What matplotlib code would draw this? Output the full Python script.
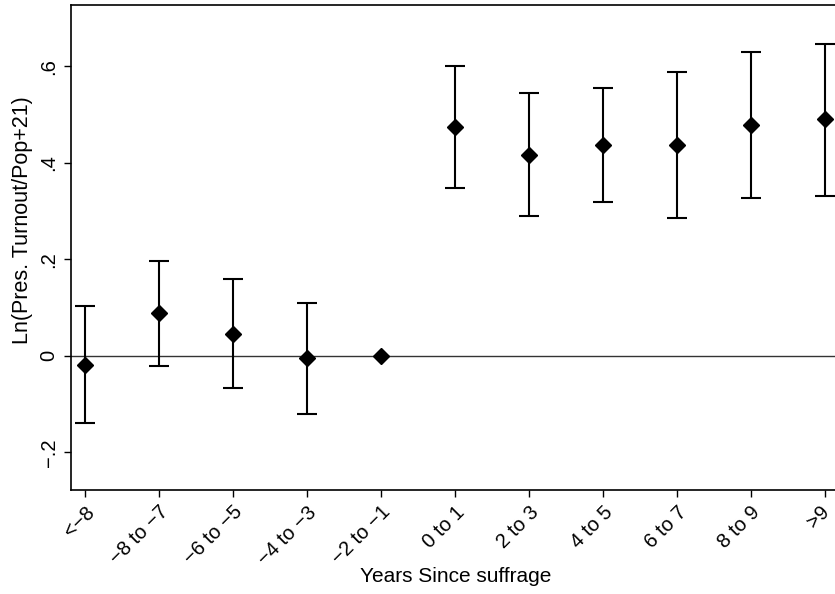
import matplotlib
matplotlib.use("Agg")
import matplotlib.pyplot as plt
import matplotlib.transforms as mtransforms
import numpy as np

plt.rcParams['font.family'] = ['Liberation Sans', 'DejaVu Sans']

# event-study bins and estimates
labels = ['<\u22128', '\u22128 to \u22127', '\u22126 to \u22125', '\u22124 to \u22123', '\u22122 to \u22121',
          '0 to 1', '2 to 3', '4 to 5', '6 to 7', '8 to 9', '>9']
coef = [-0.019, 0.088, 0.045, -0.005, 0.0, 0.474, 0.417, 0.436, 0.437, 0.478, 0.490]
upper = [0.103, 0.197, 0.159, 0.110, 0.0, 0.600, 0.544, 0.554, 0.589, 0.629, 0.647]
lower = [-0.140, -0.021, -0.067, -0.120, 0.0, 0.348, 0.289, 0.319, 0.286, 0.327, 0.331]

x = np.arange(len(labels))
coef = np.array(coef)
yerr = np.array([coef - np.array(lower), np.array(upper) - coef])

fig = plt.figure(figsize=(8.35, 5.94), dpi=100)
ax = fig.add_axes([71 / 835, 1 - 490 / 594, 1 - 71 / 835, 485 / 594])

ax.axhline(0, color='#333333', lw=1.0, zorder=1)
# error bars only where there is a band
has_ci = yerr.sum(axis=0) > 0
ax.errorbar(x[has_ci], coef[has_ci], yerr=yerr[:, has_ci], fmt='none',
            ecolor='black', elinewidth=1.5, capsize=7, capthick=1.5, zorder=2)
ax.plot(x, coef, 'D', color='black', ms=8, zorder=3)

ax.set_xlim(-0.19, 10.14)
ax.set_ylim(-0.278, 0.727)

ax.set_xticks(x)
ticklabs = ax.set_xticklabels(labels, rotation=45, ha='right', rotation_mode='anchor', fontsize=14.5)
ax.set_yticks([-0.2, 0, 0.2, 0.4, 0.6])
ax.set_yticklabels(['\u2212.2', '0', '.2', '.4', '.6'], rotation=90, va='center', fontsize=14.5)
ax.tick_params(direction='out', length=5, width=1.0, color='black', pad=4)

# nudge the last label so it stays inside the figure
shift = mtransforms.ScaledTranslation(-5 / 100, 0, fig.dpi_scale_trans)
last = ax.xaxis.get_major_ticks()[-1].label1
last.set_transform(last.get_transform() + shift)

for s in ['left', 'bottom', 'top']:
    ax.spines[s].set_linewidth(1.2)
ax.spines['right'].set_visible(False)

ax.set_xlabel('Years Since suffrage', fontsize=15)
ax.set_ylabel('Ln(Pres. Turnout/Pop+21)', fontsize=15.5)
ax.xaxis.set_label_coords(0.504, -0.158)
ax.yaxis.set_label_coords(-0.05, 0.557)

fig.savefig('out.png', dpi=100)
